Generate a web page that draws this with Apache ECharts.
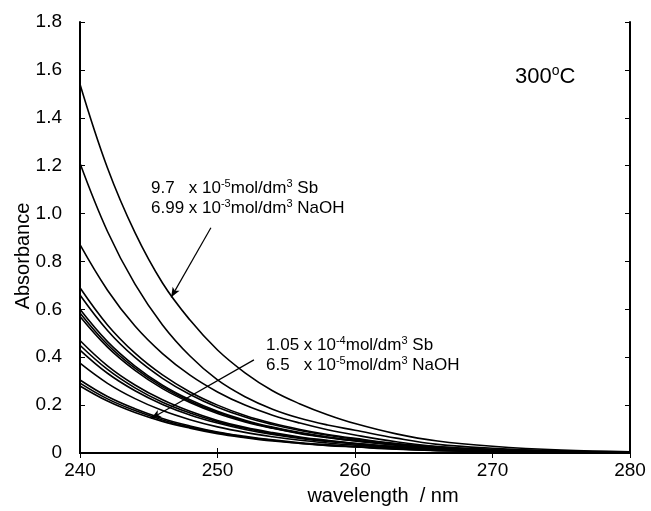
<!DOCTYPE html>
<html>
<head>
<meta charset="utf-8">
<script src="https://cdn.jsdelivr.net/npm/echarts@6/dist/echarts.min.js"></script>
<style>html,body{margin:0;padding:0;background:#fff}#c{width:651px;height:511px}</style>
</head>
<body>
<div id="c"></div>
<script>
// wavelengths (nm)
var wavelengths = [240, 242, 244, 246, 248, 250, 252, 254, 256, 258, 260, 263, 266, 270, 275, 280];
// absorbance spectra (top to bottom at 240 nm)
var curveA = [1.54, 1.19, 0.92, 0.71, 0.555, 0.43, 0.335, 0.26, 0.205, 0.16, 0.123, 0.08, 0.05, 0.028, 0.012, 0.005];
var curveB = [1.21, 0.925, 0.705, 0.535, 0.405, 0.305, 0.235, 0.183, 0.145, 0.117, 0.095, 0.062, 0.036, 0.02, 0.009, 0.004];
var curveC = [0.87, 0.68, 0.53, 0.415, 0.325, 0.255, 0.2, 0.158, 0.125, 0.097, 0.075, 0.047, 0.027, 0.015, 0.007, 0.003];
var curveD = [0.69, 0.535, 0.417, 0.326, 0.255, 0.200, 0.157, 0.124, 0.098, 0.077, 0.061, 0.040, 0.026, 0.014, 0.006, 0.003];
var curveE = [0.66, 0.512, 0.399, 0.312, 0.244, 0.191, 0.150, 0.119, 0.094, 0.074, 0.058, 0.038, 0.024, 0.013, 0.006, 0.003];
var curveF = [0.60, 0.465, 0.363, 0.283, 0.222, 0.174, 0.137, 0.108, 0.085, 0.067, 0.053, 0.035, 0.022, 0.012, 0.005, 0.002];
var curveG = [0.585, 0.453, 0.354, 0.276, 0.216, 0.170, 0.133, 0.105, 0.083, 0.066, 0.051, 0.034, 0.022, 0.012, 0.005, 0.002];
var curveH = [0.57, 0.442, 0.345, 0.269, 0.211, 0.165, 0.130, 0.103, 0.081, 0.064, 0.050, 0.033, 0.021, 0.011, 0.005, 0.002];
var curveI = [0.47, 0.364, 0.284, 0.222, 0.174, 0.136, 0.107, 0.085, 0.067, 0.053, 0.041, 0.027, 0.017, 0.009, 0.004, 0.002];
var curveJ = [0.45, 0.349, 0.272, 0.212, 0.167, 0.131, 0.103, 0.081, 0.064, 0.050, 0.040, 0.026, 0.017, 0.009, 0.004, 0.002];
var curveK = [0.43, 0.333, 0.260, 0.203, 0.159, 0.125, 0.098, 0.077, 0.061, 0.048, 0.038, 0.025, 0.016, 0.009, 0.004, 0.002];
var curveL = [0.375, 0.291, 0.227, 0.177, 0.139, 0.109, 0.086, 0.068, 0.053, 0.042, 0.033, 0.022, 0.014, 0.008, 0.003, 0.002];
var curveM = [0.305, 0.236, 0.185, 0.144, 0.113, 0.088, 0.070, 0.055, 0.043, 0.034, 0.027, 0.018, 0.011, 0.006, 0.003, 0.001];
var curveN = [0.292, 0.226, 0.177, 0.138, 0.108, 0.085, 0.067, 0.053, 0.041, 0.033, 0.026, 0.017, 0.011, 0.006, 0.003, 0.001];
var curveO = [0.28, 0.217, 0.169, 0.132, 0.104, 0.081, 0.064, 0.050, 0.040, 0.031, 0.025, 0.016, 0.010, 0.006, 0.003, 0.001];

// arrows: [wavelength, absorbance] start -> end
var arrowUpper = [[249.52, 0.941], [246.63, 0.650]];
var arrowLower = [[252.65, 0.389], [245.17, 0.144]];

var curves = [curveA, curveB, curveC, curveD, curveE, curveF, curveG, curveH, curveI, curveJ, curveK, curveL, curveM, curveN, curveO];

var FONT = '"Liberation Sans", Arial, Helvetica, sans-serif';

function pairs(ys) { return wavelengths.map(function (x, i) { return [x, ys[i]]; }); }

var series = curves.map(function (c, idx) {
  var s = {
    type: 'line', data: pairs(c), smooth: 0.4,
    showSymbol: false, symbol: 'none', silent: true,
    lineStyle: { color: '#000', width: 1.6 }, z: 3
  };
  if (idx === 0) {
    s.markLine = {
      silent: true, symbol: ['none', 'arrow'], symbolSize: [6, 10],
      label: { show: false },
      lineStyle: { color: '#000', width: 1.2, type: 'solid' },
      data: [
        [{ coord: arrowUpper[0] }, { coord: arrowUpper[1] }],
        [{ coord: arrowLower[0] }, { coord: arrowLower[1] }]
      ]
    };
  }
  return s;
});

var chart = echarts.init(document.getElementById('c'), null, { renderer: 'canvas' });

var axisCommon = {
  axisLine: { show: true, lineStyle: { color: '#000', width: 2 } },
  axisTick: { show: true, inside: true, length: 5, lineStyle: { color: '#000', width: 1 } },
  splitLine: { show: false }
};

var sup = { fontSize: 11, fontFamily: FONT, color: '#000', verticalAlign: 'top', lineHeight: 6 };
var nrm = { fontSize: 17, fontFamily: FONT, color: '#000', lineHeight: 20 };

chart.setOption({
  animation: false,
  backgroundColor: '#fff',
  grid: { left: 80, right: 21, top: 22, bottom: 58, containLabel: false, outerBoundsMode: 'none' },
  xAxis: [
    Object.assign({
      type: 'value', min: 240, max: 280, interval: 10, position: 'bottom',
      name: 'wavelength  / nm', nameLocation: 'middle', nameGap: 33,
      nameTextStyle: { fontSize: 20, fontFamily: FONT, color: '#000', padding: [0, 0, 0, 56] },
      axisLabel: { fontSize: 19, fontFamily: FONT, color: '#000', margin: 8 }
    }, axisCommon),
    Object.assign({
      type: 'value', min: 240, max: 280, interval: 10, position: 'top',
      axisLabel: { show: false }
    }, axisCommon)
  ],
  yAxis: [
    Object.assign({
      type: 'value', min: 0, max: 1.8, interval: 0.2, position: 'left',
      axisLabel: {
        fontSize: 19, fontFamily: FONT, color: '#000', margin: 18,
        formatter: function (v) { return v === 0 ? '0' : v.toFixed(1); }
      }
    }, axisCommon),
    Object.assign({
      type: 'value', min: 0, max: 1.8, interval: 0.2, position: 'right',
      axisLabel: { show: false }
    }, axisCommon)
  ],
  graphic: [
    {
      type: 'text', x: 23, y: 256, rotation: Math.PI / 2, z: 10,
      style: {
        text: 'Absorbance', fontSize: 20, fontFamily: FONT, fill: '#000',
        align: 'center', verticalAlign: 'middle'
      }
    },
    {
      type: 'text', left: 151, top: 178, z: 10,
      style: {
        text: '{n|9.7   x 10}{s|-5}{n|mol/dm}{s|3}{n| Sb}\n{n|6.99 x 10}{s|-3}{n|mol/dm}{s|3}{n| NaOH}',
        rich: { n: nrm, s: sup }
      }
    },
    {
      type: 'text', left: 266, top: 335, z: 10,
      style: {
        text: '{n|1.05 x 10}{s|-4}{n|mol/dm}{s|3}{n| Sb}\n{n|6.5   x 10}{s|-5}{n|mol/dm}{s|3}{n| NaOH}',
        rich: { n: nrm, s: sup }
      }
    },
    {
      type: 'text', left: 515, top: 64, z: 10,
      style: {
        text: '{b|300}{o|o}{b|C}',
        rich: {
          b: { fontSize: 22, fontFamily: FONT, color: '#000', lineHeight: 26 },
          o: { fontSize: 14, fontFamily: FONT, color: '#000', verticalAlign: 'top', lineHeight: 10 }
        }
      }
    }
  ],
  series: series
});
</script>
</body>
</html>
